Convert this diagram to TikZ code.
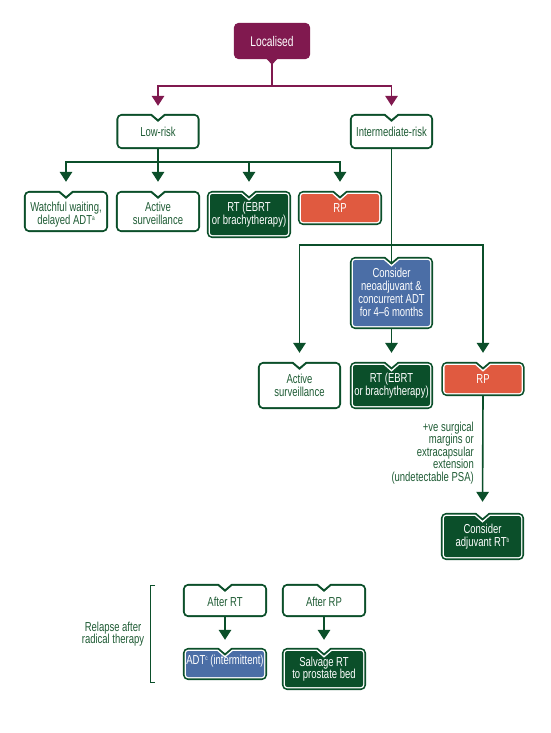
\documentclass[tikz,border=0pt]{standalone}
\usepackage{fontspec}
\setmainfont{Liberation Sans}[FakeStretch=0.73]
\usetikzlibrary{calc,arrows.meta}
\definecolor{cMaroon}{HTML}{80194F}
\definecolor{cGreen}{HTML}{0B4F2A}
\definecolor{cText}{HTML}{1F5C35}
\definecolor{cOrange}{HTML}{E05A40}
\definecolor{cBlue}{HTML}{4B6EA6}
\pgfdeclarelayer{background}
\pgfsetlayers{background,main}
% notched box outline: node, inset, corner radius, fill
\newcommand\nshape[4]{%
 \fill[#4] let \p1=(#1.north west), \p2=(#1.south east), \p3=(#1.north) in
  (\x1+#2pt, \y1-#2pt-#3pt) arc[start angle=180,end angle=90,radius=#3pt]
  -- (\x3-6.5pt-0.41*#2pt, \y1-#2pt) -- (\x3, \y1-5.5pt-1.41*#2pt) -- (\x3+6.5pt+0.41*#2pt, \y1-#2pt)
  -- (\x2-#2pt-#3pt, \y1-#2pt) arc[start angle=90,end angle=0,radius=#3pt]
  -- (\x2-#2pt, \y2+#2pt+#3pt) arc[start angle=0,end angle=-90,radius=#3pt]
  -- (\x1+#2pt+#3pt, \y2+#2pt) arc[start angle=270,end angle=180,radius=#3pt] -- cycle;}
\newcommand\whitebox[1]{\nshape{#1}{0}{5.5}{cGreen}\nshape{#1}{2}{3.5}{white}}
\newcommand\colbox[2]{\nshape{#1}{0}{5.5}{cGreen}\nshape{#1}{1.8}{3.7}{white}\nshape{#1}{3.2}{2.3}{#2}}
% text lowered inside its box by #1 pt
\newcommand\low[2]{\raisebox{-#1pt}[\height][\depth]{\begin{tabular}{@{}c@{}}#2\end{tabular}}}
\newcommand\sups[1]{\raisebox{4pt}{\fontsize{6.5}{6.5}\selectfont #1}}
\tikzset{
 txt/.style={font=\fontsize{13}{12.5}\selectfont},
 box/.style={txt, inner sep=0pt, minimum width=84pt, align=center, text=cText},
 fbox/.style={box, text=white},
 lbl/.style={txt, text=cText, inner sep=0pt},
 gline/.style={draw=cGreen, line width=1.6pt},
 garr/.style={gline, -{Triangle[width=12.5pt,length=10pt]}, shorten >=9pt},
 marr/.style={draw=cMaroon, line width=1.6pt, -{Triangle[width=12.5pt,length=10pt]}, shorten >=8pt},
}
\begin{document}
\begin{tikzpicture}[x=1pt,y=-1pt]
\useasboundingbox (0,0) rectangle (550,733);
% nodes
\node[font=\fontsize{14}{14}\selectfont, text=white, inner sep=0pt, minimum width=76pt, minimum height=36pt] (loc) at (272,41) {Localised};
\node[box, minimum width=83pt, minimum height=35pt] (low) at (158,131.5) {\low{2}{Low-risk}};
\node[box, minimum width=83pt, minimum height=35pt] (int) at (391.5,131.5) {\low{2}{Intermediate-risk}};
\node[box, minimum height=41pt] (ww) at (66,211.5) {\low{4}{Watchful waiting,\\delayed ADT\sups{a}}};
\node[box, minimum height=41pt] (as1) at (158,211.5) {\low{4}{Active\\surveillance}};
\node[fbox, minimum height=47pt] (rt1) at (249,214.5) {\low{1}{RT (EBRT\\or brachytherapy)}};
\node[fbox, minimum height=34pt] (rp1) at (340,208) {\low{2}{RP}};
\node[fbox, minimum width=83pt, minimum height=72pt] (cons) at (391.5,293) {\low{1}{Consider\\neoadjuvant \&\\concurrent ADT\\for 4–6 months}};
\node[box, minimum width=83pt, minimum height=47pt] (as2) at (299.5,385.5) {\low{1.5}{Active\\surveillance}};
\node[fbox, minimum width=83pt, minimum height=47pt] (rt2) at (391.5,385.5) {\low{0.5}{RT (EBRT\\or brachytherapy)}};
\node[fbox, minimum width=83pt, minimum height=34pt] (rp2) at (483,379) {RP};
\node[lbl, anchor=east, align=right] (cond) at (474,453) {+ve surgical\\margins or\\extracapsular\\extension\\(undetectable PSA)};
\node[fbox, minimum width=83pt, minimum height=47pt] (adj) at (482.5,536.5) {\low{1}{Consider\\adjuvant RT\sups{b}}};
\node[lbl, align=center] (rel) at (113,634) {Relapse after\\radical therapy};
\node[box, minimum height=33pt] (art) at (225,600.5) {\low{3.5}{After RT}};
\node[box, minimum height=33pt] (arp) at (324,600.5) {\low{3.5}{After RP}};
\node[fbox, minimum height=32pt] (adt) at (225,664) {\low{-2}{ADT\sups{c} (intermittent)}};
\node[fbox, minimum height=42pt] (salv) at (324,669) {Salvage RT\\to prostate bed};
\coordinate (ij) at (391.5,245);
% shapes
\begin{pgfonlayer}{background}
 \fill[white] (0,0) rectangle (550,733);
 \fill[cMaroon, rounded corners=5pt] (loc.north west) rectangle (loc.south east);
 \fill[cMaroon] ($(loc.south)+(-6pt,1pt)$) -- ($(loc.south)+(0,-5.5pt)$) -- ($(loc.south)+(6pt,1pt)$) -- cycle;
 \whitebox{low}\whitebox{int}\whitebox{ww}\whitebox{as1}\whitebox{as2}\whitebox{art}\whitebox{arp}
 \colbox{rt1}{cGreen}\colbox{rp1}{cOrange}\colbox{cons}{cBlue}\colbox{rt2}{cGreen}
 \colbox{rp2}{cOrange}\colbox{adj}{cGreen}\colbox{adt}{cBlue}\colbox{salv}{cGreen}
\end{pgfonlayer}
% connectors
\draw[marr] ([yshift=-5pt]loc.south) -- ++(0,22) -| (low.north);
\draw[marr] ([yshift=-5pt]loc.south) -- ++(0,22) -| (int.north);
\draw[garr] (low.south) -- ++(0,13) -| (ww.north);
\draw[garr] (low.south) -- (as1.north);
\draw[garr] (low.south) -- ++(0,13) -| (rt1.north);
\draw[garr] (low.south) -- ++(0,13) -| (rp1.north);
\draw[gline] (int.south) -- ([yshift=-5pt]cons.north);
\draw[garr] (ij) -| (as2.north);
\draw[garr] (ij) -| (rp2.north);
\draw[garr] (cons.south) -- (rt2.north);
\draw[garr, shorten >=11pt] (rp2.south) -- (adj.north);
\draw[garr, shorten >=8pt] (art.south) -- (adt.north);
\draw[garr, shorten >=8pt] (arp.south) -- (salv.north);
\draw[cGreen, line width=0.7pt] (155,585) -- (150,585) -- (150,682) -- (155,682);
\end{tikzpicture}
\end{document}
